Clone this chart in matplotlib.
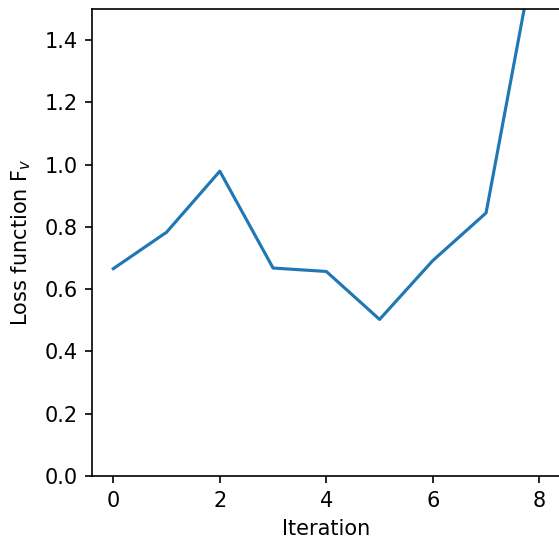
import matplotlib
matplotlib.use("Agg")
import matplotlib.pyplot as plt

iterations = [0, 1, 2, 3, 4, 5, 6, 7, 8]
loss = [0.666, 0.783, 0.979, 0.668, 0.657, 0.503, 0.692, 0.845, 1.76]

fig = plt.figure(figsize=(559 / 150, 541 / 150), dpi=150)
ax = fig.add_axes([0.1646, 0.1201, 0.8383, 0.8633])
ax.plot(iterations, loss, color="#1f77b4", linewidth=1.5)
ax.set_xlim(-0.4, 8.4)
ax.set_ylim(0, 1.5)
ax.set_xticks([0, 2, 4, 6, 8])
ax.set_yticks([0.0, 0.2, 0.4, 0.6, 0.8, 1.0, 1.2, 1.4])
ax.set_xlabel("Iteration")
ax.set_ylabel(r"Loss function F$_v$", labelpad=5.5)
fig.savefig("out.png", dpi=150)
